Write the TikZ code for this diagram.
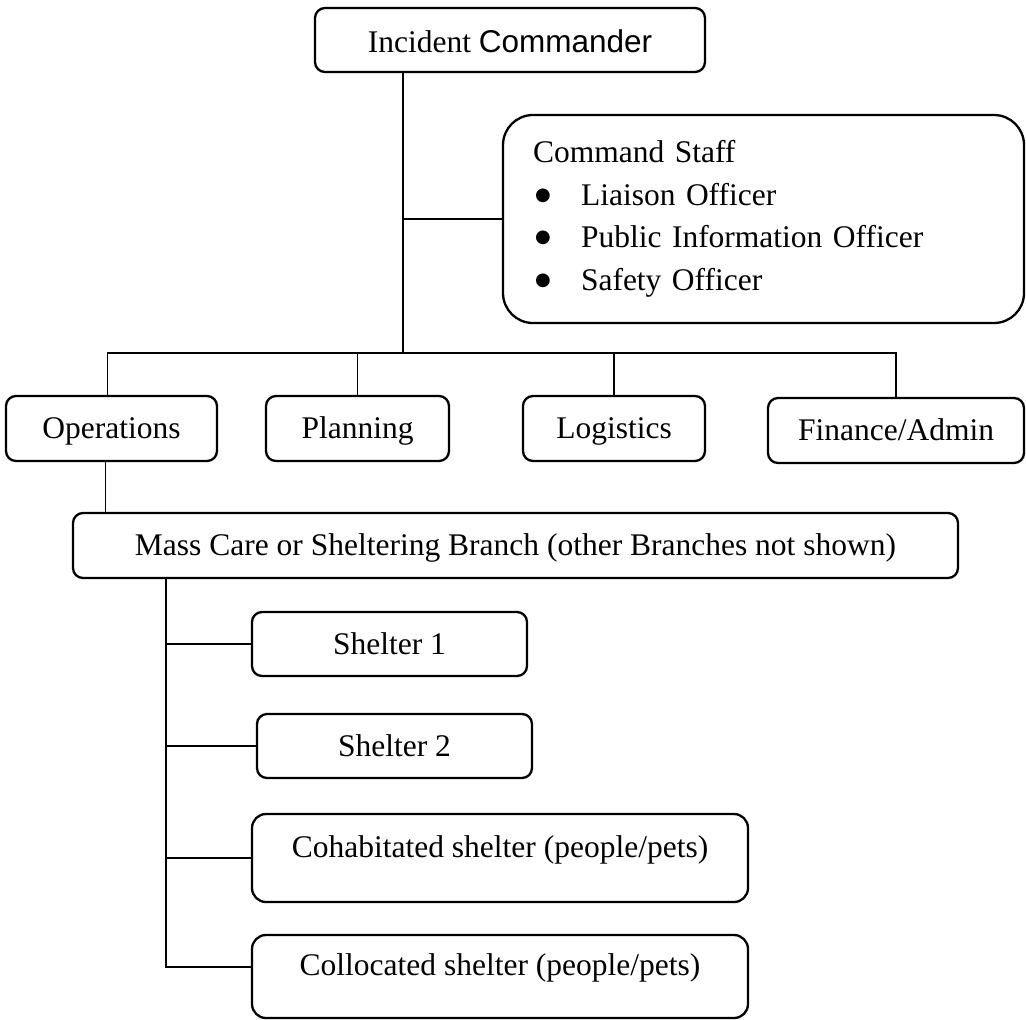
\documentclass[tikz,border=0pt]{standalone}
\usepackage{fontspec}
\setmainfont{Liberation Serif}
\newfontfamily\arialfont{Liberation Sans}
\newfontfamily\dotfont{DejaVu Sans}
\tikzset{
    unit/.style = {
        draw,
        line width=1.15pt,
        rounded corners=5pt,
        inner sep=0pt,
        minimum height=32.5pt,
        text height=13pt,
        text depth=3pt,
        },
    shelter/.style = {
        unit,
        rounded corners=7pt,
        text depth=14pt,
        },
    staff/.style = {
        unit,
        rounded corners=15pt,
        inner xsep=15pt,
        text width=230.5pt,
        text height=,
        text depth=,
        align=left,
        },
    link/.style = {
        line width=0.85pt,
        },
    every node/.style = {
        font=\fontsize{15.75}{21.25}\selectfont,
        },
}
\newcommand{\staffitem}[1]{\hspace*{1pt}\makebox[23pt][l]{\raisebox{2.5pt}{\dotfont\fontsize{9}{9}\selectfont ●}}#1}

\begin{document}
\begin{tikzpicture}[x=0.5pt, y=-0.5pt]
            \useasboundingbox (0,0) rectangle (1026,1019);

            \node[unit, minimum width=195pt, minimum height=32pt, text height=15.5pt] (ic) at (510,40) {Incident {\arialfont Commander}};
            \node[staff, minimum height=104pt] (cs) at (763.5,219) {Command Staff\\ \staffitem{Liaison Officer}\\ \staffitem{Public Information Officer}\\ \staffitem{Safety Officer}};

            \node[unit, minimum width=105.5pt] (ops) at (111.5,428.5) {Operations};
            \node[unit, minimum width=91.5pt] (plan) at (357.5,428.5) {Planning};
            \node[unit, minimum width=91pt] (log) at (614,428.5) {Logistics};
            \node[unit, minimum width=128pt] (fin) at (896,430.5) {Finance/Admin};

            \node[unit, minimum width=442.5pt] (mc) at (515.5,545.5) {Mass Care or Sheltering Branch (other Branches not shown)};

            \node[unit, minimum width=137.5pt, minimum height=32pt] (s1) at (389.5,644) {Shelter 1};
            \node[unit, minimum width=137.5pt, minimum height=32pt] (s2) at (394.5,746) {Shelter 2};
            \node[shelter, minimum width=248pt, minimum height=44pt] (cohab) at (500,858) {Cohabitated shelter (people/pets)};
            \node[shelter, minimum width=248pt, minimum height=41.5pt] (coloc) at (500,976.5) {Collocated shelter (people/pets)};

            \coordinate (bar) at (403,353);
            \coordinate (spine) at (166,0);

            \draw[link] (ic.south -| bar) -- (bar);
            \draw[link] (cs.west -| bar) -- (cs.west);
            \draw[link] ([xshift=-2pt]ops.north) |- (fin.north |- bar) -- (fin.north);
            \foreach \n in {plan, log}
                \draw[link] (\n.north) -- (\n.north |- bar);
            \draw[link] ([xshift=-3pt]ops.south) -- ([xshift=-3pt]ops.south |- mc.north);
            \draw[link] (mc.south -| spine) |- ([yshift=4.75pt]coloc.west);
            \foreach \n in {s1, s2, cohab}
                \draw[link] (spine |- \n.west) -- (\n.west);
\end{tikzpicture}
\end{document}
